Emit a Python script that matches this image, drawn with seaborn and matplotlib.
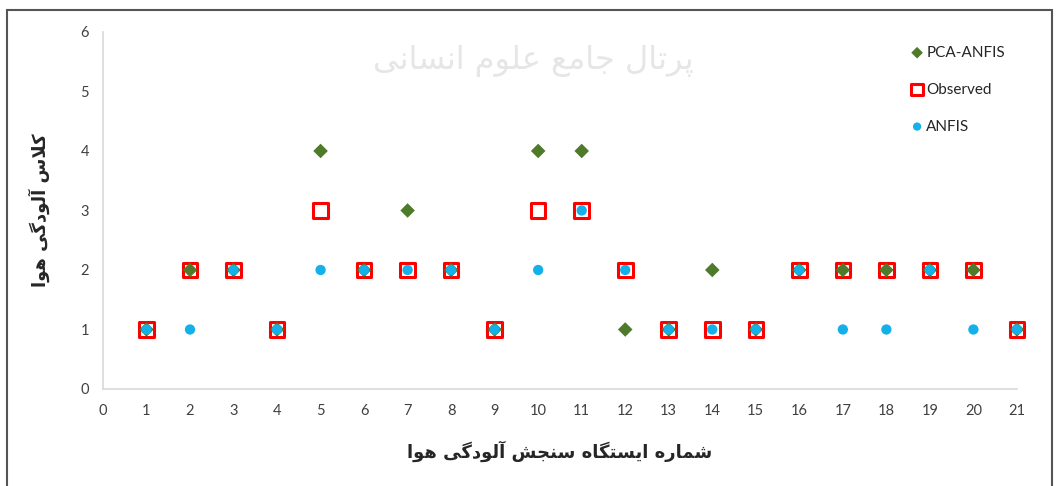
import numpy as np
import pandas as pd
import matplotlib
matplotlib.use('Agg')
import matplotlib.pyplot as plt
import seaborn as sns
from matplotlib.patches import Rectangle

# station numbers and air pollution classes
stations = list(range(1, 22))
observed = [1, 2, 2, 1, 3, 2, 2, 2, 1, 3, 3, 2, 1, 1, 1, 2, 2, 2, 2, 2, 1]
pca_anfis = [1, 2, 2, 1, 4, 2, 3, 2, 1, 4, 4, 1, 1, 2, 1, 2, 2, 2, 2, 2, 1]
anfis = [1, 1, 2, 1, 2, 2, 2, 2, 1, 2, 3, 2, 1, 1, 1, 2, 1, 1, 2, 1, 1]

xlabel_fa = 'شماره ایستگاه سنجش آلودگی هوا'
ylabel_fa = 'کلاس آلودگی هوا'
watermark_fa = 'پرتال جامع علوم انسانی'

# minimal arabic/persian shaping (matplotlib has no text shaping)
FORMS = {
    'ا': ('\uFE8D', '\uFE8E', None, None),
    'آ': ('\uFE81', '\uFE82', None, None),
    'پ': ('\uFB56', '\uFB57', '\uFB58', '\uFB59'),
    'ت': ('\uFE95', '\uFE96', '\uFE97', '\uFE98'),
    'ج': ('\uFE9D', '\uFE9E', '\uFE9F', '\uFEA0'),
    'د': ('\uFEA9', '\uFEAA', None, None),
    'ر': ('\uFEAD', '\uFEAE', None, None),
    'س': ('\uFEB1', '\uFEB2', '\uFEB3', '\uFEB4'),
    'ش': ('\uFEB5', '\uFEB6', '\uFEB7', '\uFEB8'),
    'ع': ('\uFEC9', '\uFECA', '\uFECB', '\uFECC'),
    'ک': ('\uFB8E', '\uFB8F', '\uFB90', '\uFB91'),
    'گ': ('\uFB92', '\uFB93', '\uFB94', '\uFB95'),
    'ل': ('\uFEDD', '\uFEDE', '\uFEDF', '\uFEE0'),
    'م': ('\uFEE1', '\uFEE2', '\uFEE3', '\uFEE4'),
    'ن': ('\uFEE5', '\uFEE6', '\uFEE7', '\uFEE8'),
    'ه': ('\uFEE9', '\uFEEA', '\uFEEB', '\uFEEC'),
    'و': ('\uFEED', '\uFEEE', None, None),
    'ی': ('\uFBFC', '\uFBFD', '\uFBFE', '\uFBFF'),
}


def shape(text):
    chars = list(text)
    out = []
    i = 0
    while i < len(chars):
        c = chars[i]
        if c not in FORMS:
            out.append(c)
            i += 1
            continue
        prev = chars[i - 1] if i > 0 else None
        joins_prev = prev in FORMS and FORMS[prev][2] is not None
        # lam-alef ligature
        if c == 'ل' and i + 1 < len(chars) and chars[i + 1] == 'ا':
            out.append('\uFEFC' if joins_prev else '\uFEFB')
            i += 2
            continue
        nxt = chars[i + 1] if i + 1 < len(chars) else None
        joins_next = nxt in FORMS and FORMS[c][2] is not None
        iso, fin, ini, med = FORMS[c]
        if joins_prev and joins_next:
            out.append(med)
        elif joins_prev:
            out.append(fin)
        elif joins_next:
            out.append(ini)
        else:
            out.append(iso)
        i += 1
    return ''.join(out)[::-1]


sns.set_style('white')
plt.rcParams['font.family'] = ['Lato', 'DejaVu Sans']

fig = plt.figure(figsize=(10.56, 4.86), dpi=100)
ax = fig.add_axes([0.0975, 0.1996, 0.8655, 0.7346])

df = pd.DataFrame({'station': stations, 'PCA-ANFIS': pca_anfis,
                   'Observed': observed, 'ANFIS': anfis})

sns.scatterplot(data=df, x='station', y='PCA-ANFIS', ax=ax, marker='D', s=55,
                color='#4e7a2a', edgecolor='none', label='PCA-ANFIS', zorder=3,
                clip_on=False)
sns.scatterplot(data=df, x='station', y='Observed', ax=ax, marker='s', s=110,
                facecolor='none', edgecolor='#ff0000', linewidth=2.2,
                label='Observed', zorder=2, clip_on=False)
sns.scatterplot(data=df, x='station', y='ANFIS', ax=ax, marker='o', s=55,
                color='#13b0ea', edgecolor='none', label='ANFIS', zorder=4,
                clip_on=False)

ax.set_xlim(0, 21)
ax.set_ylim(0, 6)
ax.set_xticks(range(0, 22))
ax.set_yticks(range(0, 7))
ax.tick_params(axis='both', length=0, labelsize=10.5, labelcolor='#404040')
ax.tick_params(axis='x', pad=11)
ax.tick_params(axis='y', pad=10)
for side in ['top', 'right']:
    ax.spines[side].set_visible(False)
for side in ['left', 'bottom']:
    ax.spines[side].set_color('#d9d9d9')
    ax.spines[side].set_linewidth(1.2)

ax.set_xlabel(shape(xlabel_fa), fontsize=13, fontweight='bold',
              family='DejaVu Sans', labelpad=16)
ax.set_ylabel(shape(ylabel_fa), fontsize=13, fontweight='bold',
              family='DejaVu Sans', labelpad=22)

leg = ax.legend(loc='upper right', bbox_to_anchor=(1.002, 1.0), frameon=False,
                fontsize=11, labelspacing=1.5, handletextpad=0.1,
                markerscale=0.8, handlelength=1)

fig.text(0.505, 0.875, shape(watermark_fa), fontsize=23, color='#e6e6e6',
         family='DejaVu Sans', ha='center', va='center', zorder=0)

# frame around the figure
fig.add_artist(Rectangle((7 / 1056, -0.05), 1045 / 1056, 1.05 - 10 / 486,
                         transform=fig.transFigure, fill=False,
                         edgecolor='#555555', linewidth=1.5))

fig.savefig('out.png', dpi=100)
